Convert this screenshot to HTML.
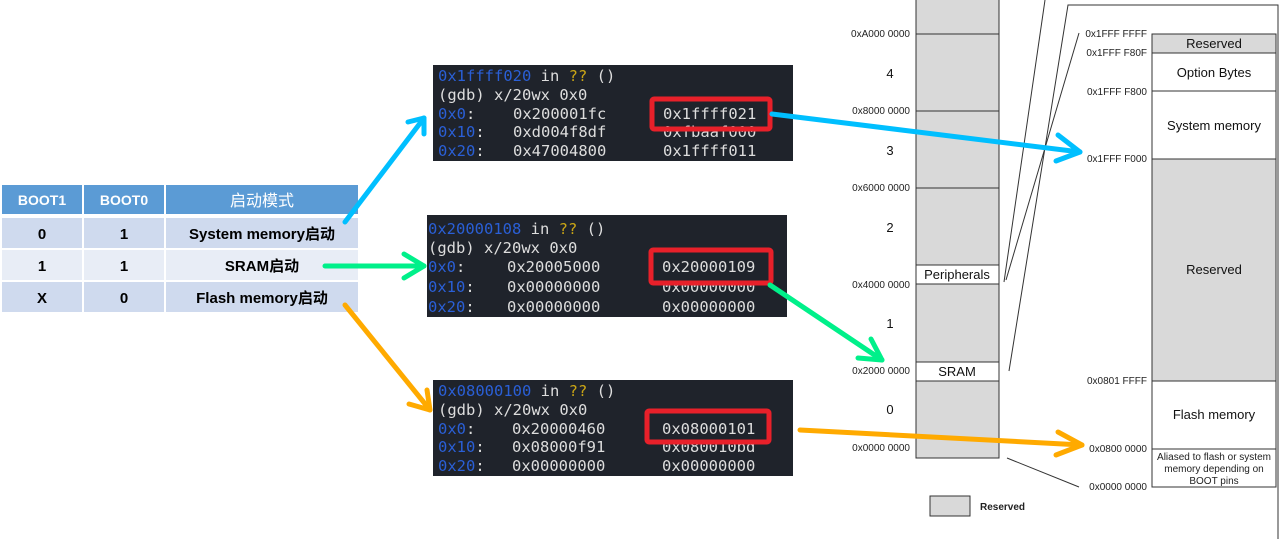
<!DOCTYPE html>
<html><head><meta charset="utf-8"><style>
body{margin:0;background:#fff;width:1281px;height:539px;overflow:hidden;}
svg{display:block}
.mono{font-family:"DejaVu Sans Mono","Liberation Mono",monospace;font-size:15.5px}
.ad{font-family:"Liberation Sans",sans-serif;font-size:10px;fill:#222}
.big{font-family:"Liberation Sans",sans-serif;font-size:13px;fill:#111}
.tb{font-family:"Liberation Sans","Noto Sans CJK SC",sans-serif;font-weight:bold;font-size:15px}
</style></head><body>
<svg width="1281" height="539" viewBox="0 0 1281 539">
<defs>
<marker id="ab" markerWidth="8" markerHeight="8" refX="6" refY="4" orient="auto" markerUnits="userSpaceOnUse"></marker>
</defs>
<!-- table -->
<rect x="2" y="185" width="80" height="29" fill="#5b9bd5"/>
<rect x="84" y="185" width="80" height="29" fill="#5b9bd5"/>
<rect x="166" y="185" width="192" height="29" fill="#5b9bd5"/>
<g fill="#cfdaee">
<rect x="2" y="218" width="80" height="30"/><rect x="84" y="218" width="80" height="30"/><rect x="166" y="218" width="192" height="30"/>
<rect x="2" y="282" width="80" height="30"/><rect x="84" y="282" width="80" height="30"/><rect x="166" y="282" width="192" height="30"/>
</g>
<g fill="#e8edf6">
<rect x="2" y="250" width="80" height="30"/><rect x="84" y="250" width="80" height="30"/><rect x="166" y="250" width="192" height="30"/>
</g>
<g class="tb" text-anchor="middle">
<text x="42" y="205" fill="#fff" font-size="14">BOOT1</text>
<text x="124" y="205" fill="#fff" font-size="14">BOOT0</text>
<text x="262" y="206" fill="#fff" font-weight="normal" font-size="16">启动模式</text>
<text x="42" y="239">0</text><text x="124" y="239">1</text><text x="262" y="239">System memory启动</text>
<text x="42" y="271">1</text><text x="124" y="271">1</text><text x="262" y="271">SRAM启动</text>
<text x="42" y="303">X</text><text x="124" y="303">0</text><text x="262" y="303">Flash memory启动</text>
</g>
<!-- terminals -->
<g class="mono">
<rect x="433" y="65" width="360" height="96" fill="#1f232b"/>
<text x="438" y="81" fill="#2a5fd6">0x1ffff020 <tspan fill="#ddd">in </tspan><tspan fill="#c9a516">??</tspan><tspan fill="#ddd"> ()</tspan></text>
<text x="438" y="100" fill="#ddd">(gdb) x/20wx 0x0</text>
<text x="438" y="119" fill="#2a5fd6">0x0<tspan fill="#ddd">:</tspan></text><text x="513" y="119" fill="#ddd">0x200001fc</text><text x="663" y="119" fill="#ddd">0x1ffff021</text>
<text x="438" y="137" fill="#2a5fd6">0x10<tspan fill="#ddd">:</tspan></text><text x="513" y="137" fill="#ddd">0xd004f8df</text><text x="663" y="137" fill="#ddd">0xfbaaf000</text>
<text x="438" y="156" fill="#2a5fd6">0x20<tspan fill="#ddd">:</tspan></text><text x="513" y="156" fill="#ddd">0x47004800</text><text x="663" y="156" fill="#ddd">0x1ffff011</text>
<rect x="652" y="99" width="118" height="30" fill="none" stroke="#e8202a" stroke-width="5" rx="2"/>

<rect x="427" y="215" width="360" height="102" fill="#1f232b"/>
<text x="428" y="234" fill="#2a5fd6">0x20000108 <tspan fill="#ddd">in </tspan><tspan fill="#c9a516">??</tspan><tspan fill="#ddd"> ()</tspan></text>
<text x="428" y="253" fill="#ddd">(gdb) x/20wx 0x0</text>
<text x="428" y="272" fill="#2a5fd6">0x0<tspan fill="#ddd">:</tspan></text><text x="507" y="272" fill="#ddd">0x20005000</text><text x="662" y="272" fill="#ddd">0x20000109</text>
<text x="428" y="292" fill="#2a5fd6">0x10<tspan fill="#ddd">:</tspan></text><text x="507" y="292" fill="#ddd">0x00000000</text><text x="662" y="292" fill="#ddd">0x00000000</text>
<text x="428" y="312" fill="#2a5fd6">0x20<tspan fill="#ddd">:</tspan></text><text x="507" y="312" fill="#ddd">0x00000000</text><text x="662" y="312" fill="#ddd">0x00000000</text>
<rect x="651" y="250" width="120" height="33" fill="none" stroke="#e8202a" stroke-width="5" rx="2"/>

<rect x="433" y="380" width="360" height="96" fill="#1f232b"/>
<text x="438" y="396" fill="#2a5fd6">0x08000100 <tspan fill="#ddd">in </tspan><tspan fill="#c9a516">??</tspan><tspan fill="#ddd"> ()</tspan></text>
<text x="438" y="415" fill="#ddd">(gdb) x/20wx 0x0</text>
<text x="438" y="434" fill="#2a5fd6">0x0<tspan fill="#ddd">:</tspan></text><text x="512" y="434" fill="#ddd">0x20000460</text><text x="662" y="434" fill="#ddd">0x08000101</text>
<text x="438" y="452" fill="#2a5fd6">0x10<tspan fill="#ddd">:</tspan></text><text x="512" y="452" fill="#ddd">0x08000f91</text><text x="662" y="452" fill="#ddd">0x080010bd</text>
<text x="438" y="471" fill="#2a5fd6">0x20<tspan fill="#ddd">:</tspan></text><text x="512" y="471" fill="#ddd">0x00000000</text><text x="662" y="471" fill="#ddd">0x00000000</text>
<rect x="647" y="411" width="122" height="31" fill="none" stroke="#e8202a" stroke-width="5" rx="2"/>
</g>
<!-- left memory column -->
<rect x="916" y="-2" width="83" height="460" fill="#d9d9d9" stroke="#333" stroke-width="1"/>
<rect x="916" y="265" width="83" height="19" fill="#fff" stroke="#333"/>
<rect x="916" y="362" width="83" height="19" fill="#fff" stroke="#333"/>
<g stroke="#333"><line x1="916" y1="34" x2="999" y2="34"/><line x1="916" y1="111" x2="999" y2="111"/><line x1="916" y1="188" x2="999" y2="188"/></g>
<text class="big" x="957" y="279" text-anchor="middle">Peripherals</text>
<text class="big" x="957" y="376" text-anchor="middle">SRAM</text>
<g class="ad" text-anchor="end">
<text x="910" y="37">0xA000 0000</text><text x="910" y="114">0x8000 0000</text><text x="910" y="191">0x6000 0000</text>
<text x="910" y="288">0x4000 0000</text><text x="910" y="374">0x2000 0000</text><text x="910" y="451">0x0000 0000</text>
</g>
<g class="big" text-anchor="middle"><text x="890" y="78">4</text><text x="890" y="155">3</text><text x="890" y="232">2</text><text x="890" y="328">1</text><text x="890" y="414">0</text></g>
<!-- connector lines -->
<g stroke="#333" stroke-width="1" fill="none">
<line x1="1045" y1="0" x2="1004" y2="282"/>
<polyline points="1009,371 1068,5 1278,5 1278,539"/>
<line x1="1079" y1="33" x2="1006" y2="280"/>
<line x1="1007" y1="458" x2="1079" y2="487"/>
</g>
<!-- right column -->
<rect x="1152" y="34" width="124" height="19" fill="#d9d9d9" stroke="#333"/>
<rect x="1152" y="53" width="124" height="38" fill="#fff" stroke="#333"/>
<rect x="1152" y="91" width="124" height="68" fill="#fff" stroke="#333"/>
<rect x="1152" y="159" width="124" height="222" fill="#d9d9d9" stroke="#333"/>
<rect x="1152" y="381" width="124" height="68" fill="#fff" stroke="#333"/>
<rect x="1152" y="449" width="124" height="38" fill="#fff" stroke="#333"/>
<g class="big" text-anchor="middle">
<text x="1214" y="48">Reserved</text><text x="1214" y="77">Option Bytes</text><text x="1214" y="130">System memory</text>
<text x="1214" y="274">Reserved</text><text x="1214" y="419">Flash memory</text>
</g>
<g class="ad" text-anchor="middle" font-size="9.5"><text x="1214" y="460">Aliased to flash or system</text><text x="1214" y="472">memory depending on</text><text x="1214" y="484">BOOT pins</text></g>
<g class="ad" text-anchor="end">
<text x="1147" y="37">0x1FFF FFFF</text><text x="1147" y="56">0x1FFF F80F</text><text x="1147" y="95">0x1FFF F800</text>
<text x="1147" y="162">0x1FFF F000</text><text x="1147" y="384">0x0801 FFFF</text><text x="1147" y="452">0x0800 0000</text><text x="1147" y="490">0x0000 0000</text>
</g>
<rect x="930" y="496" width="40" height="20" fill="#d9d9d9" stroke="#333"/>
<text x="980" y="510" class="ad" font-weight="bold">Reserved</text>
<!-- arrows -->
<g fill="none" stroke-width="5" stroke-linecap="round" stroke-linejoin="round">
<g stroke="#00bfff">
<line x1="345" y1="222" x2="424" y2="118"/><polyline points="408,122 424,118 424,134"/>
<line x1="772" y1="114" x2="1080" y2="152"/><polyline points="1058,135 1080,152 1056,161"/>
</g>
<g stroke="#00f08a">
<line x1="325" y1="266" x2="424" y2="266"/><polyline points="404,254 424,266 404,278"/>
<line x1="770" y1="285" x2="882" y2="360"/><polyline points="858,358 882,360 871,339"/>
</g>
<g stroke="#ffaa00">
<line x1="345" y1="305" x2="430" y2="410"/><polyline points="409,404 430,410 427,390"/>
<line x1="800" y1="430" x2="1082" y2="445"/><polyline points="1058,432 1082,445 1056,455"/>
</g>
</g>
</svg>
</body></html>
